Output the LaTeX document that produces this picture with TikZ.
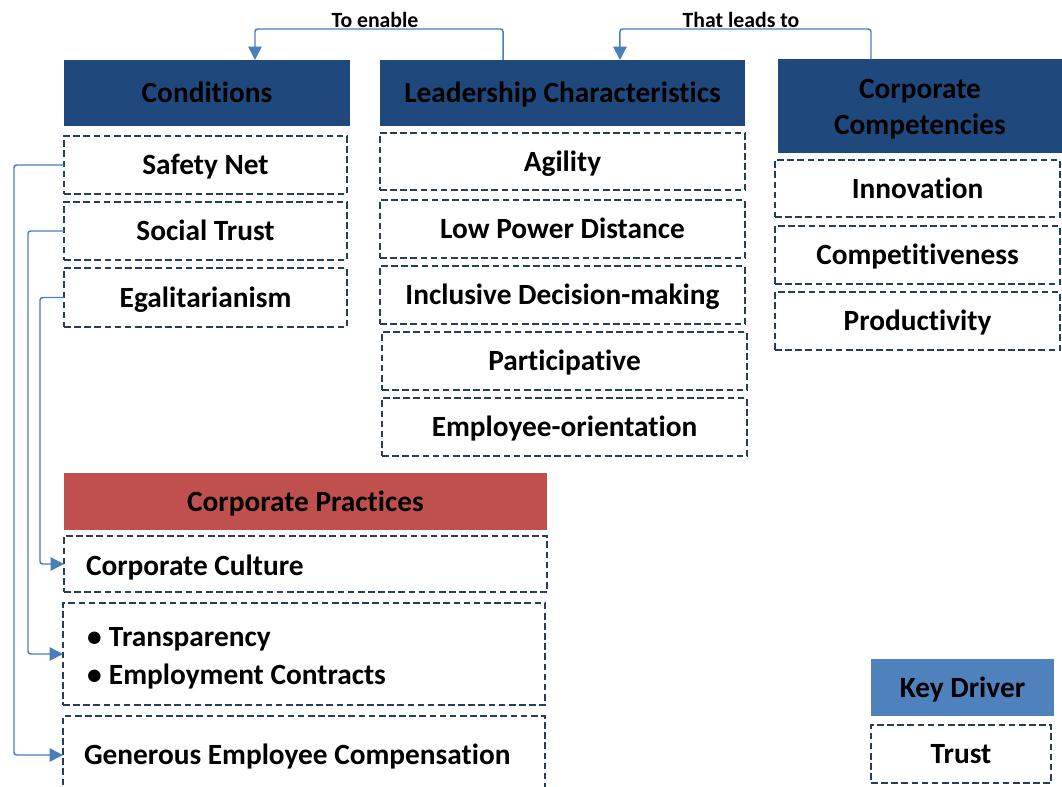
\documentclass[tikz,border=0pt]{standalone}
\usepackage{fontspec}
\setmainfont{Carlito}[Ligatures=NoCommon]
\usetikzlibrary{arrows.meta}
\definecolor{hdrblue}{RGB}{31,73,125}
\definecolor{keyblue}{RGB}{79,129,189}
\definecolor{pracred}{RGB}{192,80,77}
\definecolor{dashcol}{RGB}{36,62,96}
\definecolor{conncol}{RGB}{74,126,187}
\tikzset{
  base/.style={rectangle, inner sep=0pt, outer sep=0pt, font=\bfseries\fontsize{22}{27}\selectfont, text=black},
  onel/.style={text height=15pt, text depth=0.5pt},
  hdr/.style={base, onel, fill=hdrblue},
  hdrbox/.style={base, fill=hdrblue},
  keyhdr/.style={base, onel, fill=keyblue},
  prachdr/.style={base, onel, fill=pracred},
  dbox/.style={base, onel, draw=dashcol, line width=1.6pt, dash pattern=on 5pt off 2.6pt},
  ltext/.style={base, onel, anchor=west},
  conn/.style={draw=conncol, line width=1.1pt, rounded corners=2pt, -{Triangle[length=10pt,width=10pt]}},
  lbl/.style={inner sep=0pt, font=\bfseries\fontsize{16.3}{19}\selectfont, text=black}
}
\newcommand\bx[7]{\node[#6, minimum width={(#4-#2)*0.75pt}, minimum height={(#5-#3)*0.75pt}] (#1) at ({(#2+#4)/2},{(#3+#5)/2}) {#7};}
\newcommand\blt{\makebox[16.5pt][l]{\textbullet}}
\begin{document}
\begin{tikzpicture}[x=0.75pt,y=-0.75pt]
\useasboundingbox (0,0) rectangle (1062,786);
% headers
\bx{cond}{64}{60}{350}{126}{hdr}{Conditions}
\bx{lead}{380}{60}{745}{126}{hdr}{Leadership Characteristics}
\bx{comp}{778}{59}{1062}{153}{hdrbox}{}
\node[base, align=center, font=\bfseries\fontsize{22}{27.5}\selectfont] (compT) at ([yshift=-2.5pt]comp.center) {Corporate\\Competencies};
% conditions
\bx{safety}{64}{136}{347}{194}{dbox}{Safety Net}
\bx{social}{64}{202}{347}{260}{dbox}{Social Trust}
\bx{egal}{64}{268}{347}{327}{dbox}{Egalitarianism}
% leadership
\bx{agil}{380}{133}{745}{190}{dbox}{Agility}
\bx{lpd}{380}{200}{745}{258}{dbox}{Low Power Distance}
\bx{incl}{380}{266}{745}{324}{dbox}{Inclusive Decision-making}
\bx{part}{382}{332}{747}{390}{dbox}{Participative}
\bx{emp}{382}{398}{747}{456}{dbox}{Employee-orientation}
% competencies
\bx{innov}{775}{160}{1060}{217}{dbox}{Innovation}
\bx{compet}{775}{226}{1060}{284}{dbox}{Competitiveness}
\bx{prod}{775}{292}{1060}{350}{dbox}{Productivity}
% practices
\bx{prac}{64}{473}{547}{530}{prachdr}{Corporate Practices}
\bx{cult}{64}{536}{547}{592}{dbox}{}
\bx{transp}{63}{603}{545}{705}{dbox}{}
\bx{gen}{63}{716}{545}{794}{dbox}{}
\node[ltext] (cultT) at (86,566) {Corporate Culture};
\node[ltext] (transpT1) at (87,637) {\blt Transparency};
\node[ltext] (transpT2) at (87,675) {\blt Employment Contracts};
\node[ltext] (genT) at (84,755) {Generous Employee Compensation};
% key driver
\bx{key}{871}{659}{1054}{716}{keyhdr}{Key Driver}
\bx{trust}{871}{725}{1051}{783}{dbox}{Trust}
% top connectors
\draw[conn] ([xshift=-44.6pt]lead.north) -- ++(0,-31) -| ([xshift=36pt]cond.north);
\draw[conn] ([xshift=-36.75pt]comp.north) -- ++(0,-30) -| ([xshift=43.1pt]lead.north);
\node[lbl] (enable) at (375,20) {To enable};
\node[lbl] (leads) at (741,20) {That leads to};
% left connectors
\draw[conn] (safety.west) -- ++(-50,0) |- (gen.west);
\draw[conn] (social.west) -- ++(-36,0) |- (transp.west);
\draw[conn] (egal.west) -- ++(-24,0) |- (cult.west);
\end{tikzpicture}
\end{document}
